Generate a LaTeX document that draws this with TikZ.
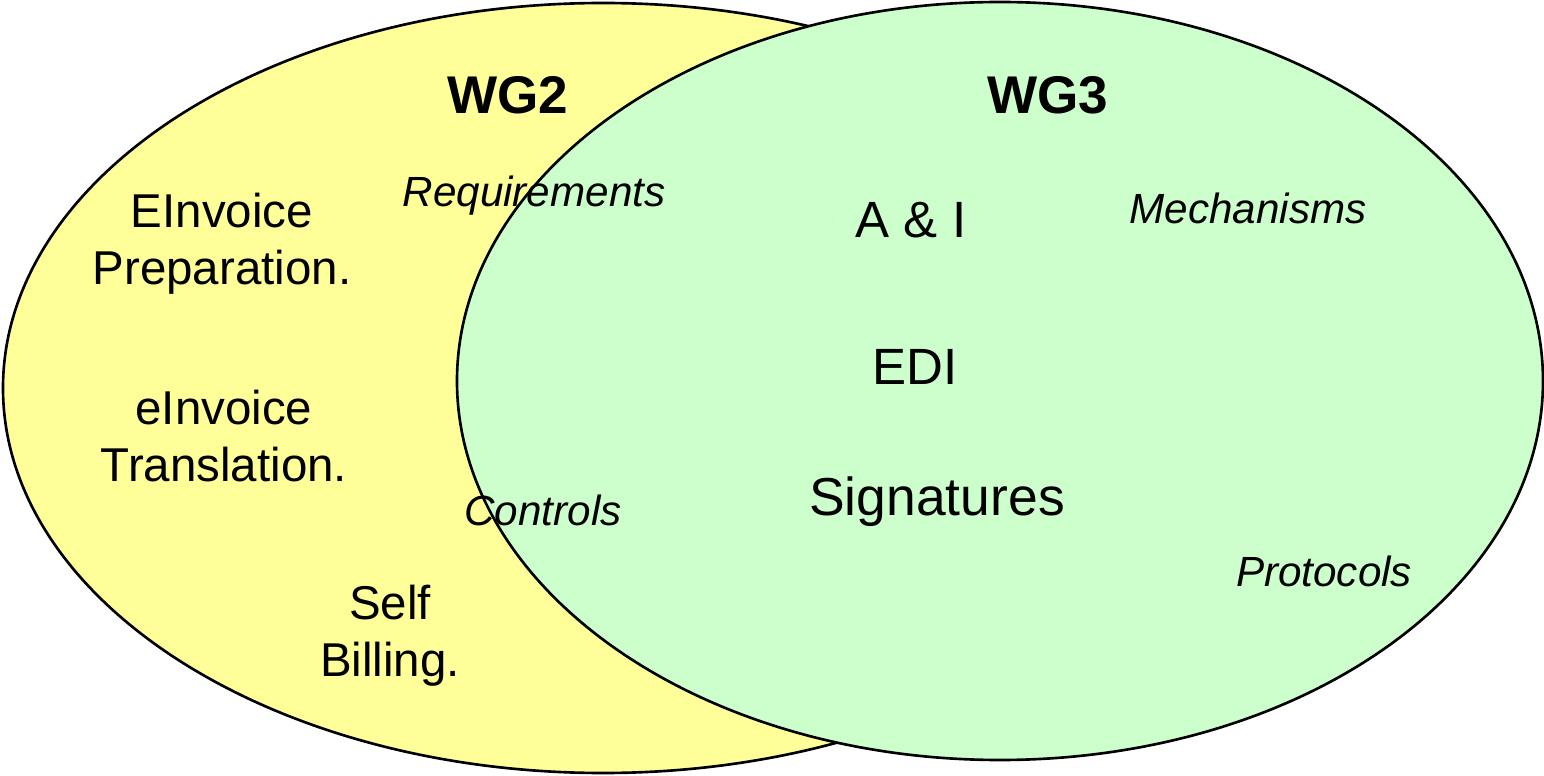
\documentclass[tikz,border=0pt]{standalone}
\usepackage{fontspec}
\setmainfont{Liberation Sans}
\usepackage{tikz}
\definecolor{wgyellow}{HTML}{FFFF99}
\definecolor{wggreen}{HTML}{CCFFCC}
\definecolor{ink}{HTML}{000000}

\begin{document}
\begin{tikzpicture}[x=0.01cm,y=0.01cm,
  group/.style={draw=ink,line width=.75pt},
  head/.style={font=\fontsize{15.1}{18}\selectfont\bfseries,inner sep=0pt},
  task/.style={font=\fontsize{13.5}{16.2}\selectfont,align=center,inner sep=0pt},
  topic/.style={font=\fontsize{14.5}{17.4}\selectfont,inner sep=0pt},
  aspect/.style={font=\fontsize{12}{14.4}\selectfont\itshape,inner sep=0pt}]
  \useasboundingbox (0,0) rectangle (1544,775);
  % the two working groups
  \draw[group,fill=wgyellow] (603,387) ellipse [x radius=600, y radius=385];
  \draw[group,fill=wggreen] (1000,394) ellipse [x radius=543, y radius=379];
  \node[head] (wg2) at (508,680) {WG2};
  \node[head] (wg3) at (1048,680) {WG3};
  % WG2 only
  \node[task] (prep) at (222,531) {EInvoice\\Preparation.};
  \node[task] (trans) at (224,339) {eInvoice\\Translation.};
  \node[task] (self) at (390,139) {Self\\Billing.};
  % shared
  \node[aspect] (req) at (534,579) {Requirements};
  \node[aspect] (ctrl) at (543,265) {Controls};
  % WG3
  \node[topic] (ai) at (911,555) {A \& I};
  \node[topic] (edi) at (915,408) {EDI};
  \node[topic,font=\fontsize{15.2}{18}\selectfont] (sig) at (937,273) {Signatures};
  \node[aspect] (mech) at (1248,567) {Mechanisms};
  \node[aspect] (prot) at (1324,204) {Protocols};
\end{tikzpicture}
\end{document}
